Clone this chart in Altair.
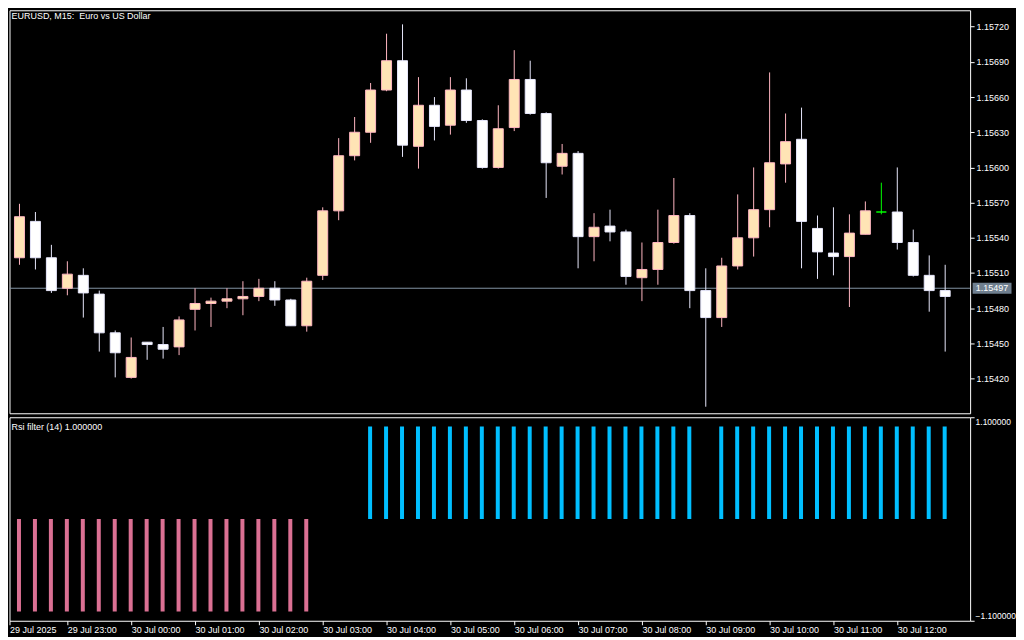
import altair as alt
import pandas as pd

# ---- data (EURUSD M15, 60 candles, 29 Jul 22:00 .. 30 Jul 12:45) ----
opens = [1.15499, 1.15523, 1.15554, 1.15523, 1.15497, 1.15508, 1.15492, 1.15459, 1.15421, 1.15451,
         1.15449, 1.15447, 1.15479, 1.15484, 1.15486, 1.15488, 1.15490, 1.15497, 1.15487, 1.15465,
         1.15508, 1.15563, 1.15610, 1.15630, 1.15666, 1.15691, 1.15618, 1.15653, 1.15636, 1.15666,
         1.15640, 1.15600, 1.15634, 1.15675, 1.15646, 1.15601, 1.15612, 1.15541, 1.15550, 1.15545,
         1.15506, 1.15513, 1.15536, 1.15559, 1.15495, 1.15472, 1.15516, 1.15540, 1.15564, 1.15603,
         1.15624, 1.15548, 1.15527, 1.15524, 1.15543, 1.15562, 1.15562, 1.15536, 1.15508, 1.15495]
highs = [1.15525, 1.15569, 1.15562, 1.15534, 1.15520, 1.15514, 1.15495, 1.15461, 1.15455, 1.15451,
         1.15464, 1.15473, 1.15497, 1.15489, 1.15497, 1.15503, 1.15505, 1.15503, 1.15488, 1.15506,
         1.15566, 1.15625, 1.15643, 1.15672, 1.15714, 1.15722, 1.15677, 1.15660, 1.15677, 1.15676,
         1.15641, 1.15653, 1.15700, 1.15691, 1.15647, 1.15620, 1.15614, 1.15561, 1.15564, 1.15547,
         1.15536, 1.15564, 1.15591, 1.15561, 1.15514, 1.15523, 1.15577, 1.15600, 1.15681, 1.15646,
         1.15651, 1.15559, 1.15566, 1.15560, 1.15571, 1.15587, 1.15600, 1.15547, 1.15525, 1.15517]
lows = [1.15497, 1.15517, 1.15513, 1.15493, 1.15491, 1.15472, 1.15443, 1.15421, 1.15420, 1.15436,
        1.15437, 1.15440, 1.15461, 1.15464, 1.15480, 1.15474, 1.15486, 1.15482, 1.15465, 1.15460,
        1.15504, 1.15555, 1.15606, 1.15621, 1.15665, 1.15609, 1.15599, 1.15623, 1.15628, 1.15638,
        1.15599, 1.15599, 1.15631, 1.15645, 1.15574, 1.15594, 1.15514, 1.15520, 1.15537, 1.15500,
        1.15486, 1.15500, 1.15535, 1.15480, 1.15396, 1.15464, 1.15513, 1.15524, 1.15549, 1.15587,
        1.15514, 1.15505, 1.15508, 1.15481, 1.15543, 1.15560, 1.15530, 1.15507, 1.15477, 1.15443]
closes = [1.15523, 1.15558, 1.15523, 1.15495, 1.15509, 1.15493, 1.15459, 1.15442, 1.15438, 1.15449,
          1.15445, 1.15470, 1.15484, 1.15486, 1.15488, 1.15490, 1.15497, 1.15487, 1.15465, 1.15503,
          1.15563, 1.15610, 1.15630, 1.15666, 1.15691, 1.15619, 1.15653, 1.15635, 1.15666, 1.15640,
          1.15600, 1.15633, 1.15675, 1.15646, 1.15604, 1.15612, 1.15541, 1.15549, 1.15545, 1.15507,
          1.15513, 1.15536, 1.15559, 1.15495, 1.15472, 1.15516, 1.15540, 1.15564, 1.15604, 1.15622,
          1.15554, 1.15528, 1.15524, 1.15544, 1.15563, 1.15562, 1.15536, 1.15508, 1.15495, 1.15490]
rsi_filter = [-1, -1, -1, -1, -1, -1, -1, -1, -1, -1,
              -1, -1, -1, -1, -1, -1, -1, -1, -1, -1,
              0, 0, 0, 1, 1, 1, 1, 1, 1, 1,
              1, 1, 1, 1, 1, 1, 1, 1, 1, 1,
              1, 1, 1, 1, 0, 1, 1, 1, 1, 1,
              1, 1, 1, 1, 1, 1, 1, 1, 1, 1]
time_tick_labels = ["29 Jul 2025", "29 Jul 23:00", "30 Jul 00:00", "30 Jul 01:00", "30 Jul 02:00",
                    "30 Jul 03:00", "30 Jul 04:00", "30 Jul 05:00", "30 Jul 06:00", "30 Jul 07:00",
                    "30 Jul 08:00", "30 Jul 09:00", "30 Jul 10:00", "30 Jul 11:00", "30 Jul 12:00"]
price_ticks = [1.15420, 1.15450, 1.15480, 1.15510, 1.15540, 1.15570,
               1.15600, 1.15630, 1.15660, 1.15690, 1.15720]
indicator_ticks = [-1.1, 1.1]
bid_price = 1.15497
symbol_title = "EURUSD, M15:\u00a0 Euro vs US Dollar"
indicator_title = "Rsi filter (14) 1.000000"

# ---- tables ----
n = len(opens)
idx = list(range(n))
dirs = ["bull" if c > o else ("bear" if c < o else "doji") for o, c in zip(opens, closes)]
df = pd.DataFrame({"k": idx, "open": opens, "high": highs, "low": lows, "close": closes, "dir": dirs})
ind_df = pd.DataFrame({"k": idx, "v": rsi_filter})
bid_df = pd.DataFrame({"p": [bid_price]})
title_df = pd.DataFrame({"t": [symbol_title]})
ind_title_df = pd.DataFrame({"t": [indicator_title]})

FONT = "Liberation Sans"
FS = 9
W = 963
XDOM = [0.375, 60.5625]

xscale = alt.Scale(domain=XDOM, nice=False, zero=False, padding=0)
yscale = alt.Scale(domain=[1.153904, 1.157340], nice=False, zero=False, padding=0)
dir_dom = ["bull", "bear", "doji"]
fill_scale = alt.Scale(domain=dir_dom, range=["#FFE4B5", "#FFFFFF", "#00FF00"])
stroke_scale = alt.Scale(domain=dir_dom, range=["#FFB6C1", "#E6E6FA", "#00FF00"])

yaxis_main = alt.Axis(orient="right", values=price_ticks, format=".5f", title=None,
                      grid=False, domain=False, tickSize=4, tickColor="#FFFFFF",
                      labelColor="#FFFFFF", labelFont=FONT, labelFontSize=FS, labelPadding=2,
                      labelOverlap=False, labelFlush=False)

# first time label sits at the left edge of the panel, the others every 4 bars (1 hour)
tick_pos = [XDOM[0]] + [4 * i for i in range(1, len(time_tick_labels))]
label_expr = "[" + ",".join("'" + s + "'" for s in time_tick_labels) + "][round(datum.value/4)]"
xaxis = alt.Axis(orient="bottom", values=tick_pos, labelExpr=label_expr, title=None,
                 grid=False, domain=False, tickSize=4, tickColor="#FFFFFF",
                 labelColor="#FFFFFF", labelFont=FONT, labelFontSize=FS, labelAlign="left",
                 labelBaseline="top", labelPadding=1, labelFlush=False, labelOverlap=False)

yaxis_ind = alt.Axis(orient="right", values=indicator_ticks, format=".6f", title=None,
                     grid=False, domain=False, tickSize=4, tickColor="#FFFFFF",
                     labelColor="#FFFFFF", labelFont=FONT, labelFontSize=8.5, labelPadding=1,
                     labelFlush=True, labelOverlap=False)


def Y(f):
    return alt.Y(f, scale=yscale, axis=yaxis_main)


X = alt.X("k:Q", scale=xscale, axis=None)

bid_line = alt.Chart(bid_df).mark_rule(color="#8494A4", strokeWidth=1).encode(y=Y("p:Q"))

wicks = alt.Chart(df).mark_rule(strokeWidth=1, clip=True).encode(
    x=X, y=Y("low:Q"), y2="high:Q",
    color=alt.Color("dir:N", scale=stroke_scale, legend=None))

bodies = alt.Chart(df).mark_bar(width=10, strokeWidth=1, clip=True).encode(
    x=X, y=Y("open:Q"), y2="close:Q",
    fill=alt.Fill("dir:N", scale=fill_scale, legend=None),
    stroke=alt.Stroke("dir:N", scale=stroke_scale, legend=None))

tag_box = alt.Chart(bid_df).mark_point(
    shape="M-1,-0.282L1,-0.282L1,0.282L-1,0.282Z", filled=True, size=1521,
    color="#6F7F8F", opacity=1, strokeWidth=0).encode(x=alt.value(W + 22), y=Y("p:Q"))

tag_text = alt.Chart(bid_df).mark_text(
    color="#FFFFFF", font=FONT, fontSize=FS, align="center", baseline="middle").encode(
    x=alt.value(W + 22), y=Y("p:Q"), text=alt.Text("p:Q", format=".5f"))

title_text = alt.Chart(title_df).mark_text(
    color="#FFFFFF", font=FONT, fontSize=FS, align="left", baseline="middle").encode(
    x=alt.value(2), y=alt.value(5.5), text="t:N")

main = alt.layer(bid_line, wicks, bodies, tag_box, tag_text, title_text).properties(
    width=W, height=404)

bars = alt.Chart(ind_df).mark_bar(width=4, xOffset=-0.5, clip=True).encode(
    x=alt.X("k:Q", scale=xscale, axis=xaxis),
    y=alt.Y("v:Q", scale=alt.Scale(domain=[-1.1, 1.1], nice=False, padding=0), axis=yaxis_ind),
    color=alt.condition("datum.v > 0", alt.value("#00BFFF"), alt.value("#DB7093")))

ind_text = alt.Chart(ind_title_df).mark_text(
    color="#FFFFFF", font=FONT, fontSize=FS, align="left", baseline="middle").encode(
    x=alt.value(2), y=alt.value(9.5), text="t:N")

indicator = alt.layer(bars, ind_text).properties(width=W, height=204)

chart = alt.vconcat(main, indicator, spacing=2).properties(
    padding={"left": 0.5, "top": 0.5, "right": 0, "bottom": 0},
    background="#000000",
).configure_view(stroke="#FFFFFF", strokeWidth=1, fill="#000000")

chart.save("out.html", embed_options={"renderer": "svg", "actions": False})
